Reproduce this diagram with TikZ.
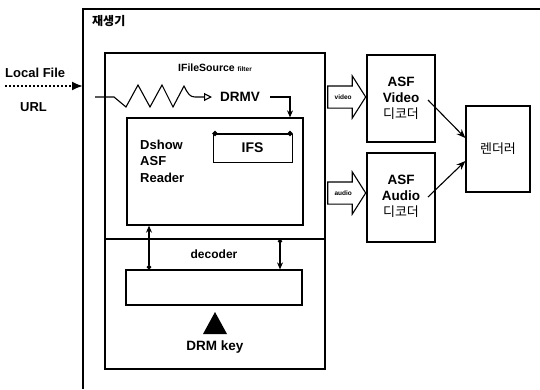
\documentclass[tikz,border=0pt]{standalone}
\usepackage{fontspec}
\setmainfont{Liberation Sans}
\newfontfamily\kor{Noto Sans CJK KR}
\usetikzlibrary{arrows.meta,shapes.arrows}

\tikzset{
  box/.style={draw, line width=1.3pt, inner sep=0pt},
  lbl/.style={font=\bfseries\fontsize{13}{16}\selectfont, inner sep=0pt},
  conn/.style={line width=1.1pt},
  blockarrow/.style={draw, line width=1.1pt, single arrow, single arrow head extend=10pt,
    single arrow tip angle=115, minimum height=38pt, inner xsep=2pt, inner ysep=8pt,
    text height=5pt, text depth=0pt, font=\bfseries\fontsize{6.5}{7}\selectfont},
}

\begin{document}
\begin{tikzpicture}[x=1pt,y=-1pt]
\useasboundingbox (0,0) rectangle (540,389);

% player frame (top and left edges)
\coordinate (frTR) at (540,9);
\coordinate (frTL) at (83,9);
\coordinate (frBL) at (83,389);
\draw[line width=2pt] (frTR) -- (frTL) -- (frBL);
\node[anchor=west, inner sep=0pt, font=\kor\bfseries\fontsize{12}{14}\selectfont] (player) at (92,21) {재생기};

% input source
\node[lbl, anchor=west] (local) at (5,73) {Local File};
\node[lbl, anchor=west] (url) at (20,107) {URL};
\coordinate (srcL) at (5,86);
\draw[line width=2pt, dotted, -{Latex[length=11pt,width=9pt]}] (srcL) -- (frTL |- srcL);

% IFileSource filter
\node[box] (filter) at (215,211) [minimum width=220pt, minimum height=316pt] {};
\node[inner sep=0pt, font=\bfseries\fontsize{10.5}{12}\selectfont] (ftitle) at (215,68)
  {IFileSource {\fontsize{6.5}{7}\selectfont filter}};
\draw[line width=1.3pt] (filter.west |- 0,239) coordinate (divL) -- (filter.east |- 0,239) coordinate (divR);

% zigzag input to DRMV
\coordinate (zzStart) at (95,97);
\node[lbl, anchor=west, font=\bfseries\fontsize{13.5}{16}\selectfont] (drmv) at (220,97) {DRMV};
\draw[conn, -{Triangle[open,length=8pt,width=8pt,line width=1.1pt]}] (zzStart) -- (114,97) -- (126,107) -- (138,85)
  -- (150,107) -- (162,85) -- (173,107) -- (184,86) .. controls (188,94) and (190,97) .. (195,97)
  -- ([xshift=-8pt]drmv.west);

% Dshow ASF Reader
\node[box] (reader) at (215,171.5) [minimum width=176pt, minimum height=107pt] {};
\node[lbl, anchor=west, align=left, font=\bfseries\fontsize{13}{16.5}\selectfont] (rtext) at (140,161)
  {Dshow\\ASF\\Reader};
\node[box, line width=1pt] (ifs) at (252.5,148) [minimum width=79pt, minimum height=28pt]
  {\bfseries\fontsize{14}{16}\selectfont IFS};
\draw[line width=2pt, {Circle[length=5pt]}-{Circle[length=5pt]}] (ifs.north west) -- (ifs.north east);

\coordinate (drmvOut) at (270,97);
\draw[conn, -{Stealth[length=7pt,width=6pt]}] (drmvOut) -- (290,97) -- (290,0 |- reader.north);

% decoder
\node[lbl, font=\bfseries\fontsize{12}{14}\selectfont] (dectext) at (214,254) {decoder};
\node[box] (decbox) at (214,287.5) [minimum width=176pt, minimum height=35pt] {};
\draw[conn, {Circle[length=4.5pt]}-{Stealth[length=7pt,width=6pt]}] (149,0 |- decbox.north) -- (149,0 |- reader.south);
\draw[conn, {Circle[length=4.5pt]}-{Stealth[length=7pt,width=6pt]}] (280,239) -- (280,0 |- decbox.north);
\fill (215,312) coordinate (keytop) -- (227,334) -- (203,334) -- cycle;
\node[lbl, font=\bfseries\fontsize{13.5}{16}\selectfont] (drmkey) at (215,347) {DRM key};

% decoders and renderer
\node[box] (vdec) at (401,98.5) [minimum width=68pt, minimum height=87pt] {};
\node[lbl, align=center, font=\bfseries\fontsize{13.5}{16}\selectfont] (vtext) at (401,98)
  {ASF\\Video\\{\kor\mdseries\fontsize{13}{16}\selectfont 디코더}};
\node[box] (adec) at (401,197.5) [minimum width=68pt, minimum height=89pt] {};
\node[lbl, align=center, font=\bfseries\fontsize{13.5}{16}\selectfont] (atext) at (401,196)
  {ASF\\Audio\\{\kor\mdseries\fontsize{13}{16}\selectfont 디코더}};
\node[box] (rend) at (498,149) [minimum width=64pt, minimum height=86pt]
  {\kor\fontsize{13}{16}\selectfont 렌더러};

\node[blockarrow, anchor=tip] (varrow) at (vdec.west |- 0,97) {video};
\node[blockarrow, anchor=tip] (aarrow) at (adec.west |- 0,193) {audio};

\coordinate (vout) at (428,100);
\coordinate (aout) at (428,197);
\draw[conn, -{Stealth[length=9pt,width=7pt]}] (vout) -- (rend.west |- 0,138);
\draw[conn, -{Stealth[length=9pt,width=7pt]}] (aout) -- (rend.west |- 0,161);
\end{tikzpicture}
\end{document}
